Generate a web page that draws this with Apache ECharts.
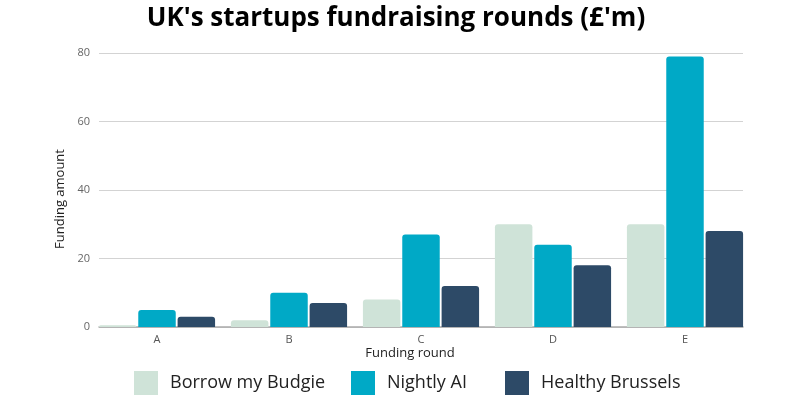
<!DOCTYPE html>
<html>
<head>
<meta charset="utf-8">
<script src="https://cdn.jsdelivr.net/npm/echarts@6/dist/echarts.min.js"></script>
<style>
  html, body { margin: 0; padding: 0; background: #fff; }
  #chart { width: 792px; height: 396px; }
</style>
</head>
<body>
<div id="chart"></div>
<script>
const rounds = ['A', 'B', 'C', 'D', 'E']
const seriesNames = ['Borrow my Budgie', 'Nightly AI', 'Healthy Brussels']
const borrowMyBudgie = [0.5, 2, 8, 30, 30]
const nightlyAI = [5, 10, 27, 24, 79]
const healthyBrussels = [3, 7, 12, 18, 28]
const yTicks = [0, 20, 40, 60, 80]

const font = '"Open Sans", sans-serif'
const colors = ['#cfe3d8', '#00a9c6', '#2d4a67']
const legendLeft = [134, 351, 505]
const chart = echarts.init(document.getElementById('chart'))

// bars sit in their own grid so the groups touch the plot edges like the original
const barSeries = (name, data, i) => ({
  name: name,
  type: 'bar',
  xAxisIndex: 1,
  yAxisIndex: 1,
  data: data,
  barCategoryGap: '12%',
  barGap: '5%',
  itemStyle: { color: colors[i], borderRadius: [3, 3, 0, 0] }
})

chart.setOption({
  animation: false,
  textStyle: { fontFamily: font },
  color: colors,
  title: {
    text: "UK's startups fundraising rounds (£'m)",
    left: 'center',
    top: 1,
    textStyle: { fontFamily: font, fontSize: 26, fontWeight: 'bold', color: '#000' }
  },
  legend: seriesNames.map((name, i) => ({
    left: legendLeft[i],
    top: 371,
    padding: 0,
    itemWidth: 24,
    itemHeight: 24,
    icon: 'rect',
    textStyle: { fontFamily: font, fontSize: 18, color: '#222', padding: [0, 0, 0, 7] },
    data: [name]
  })),
  grid: [
    { left: 99, right: 49, top: 53, bottom: 69 },
    { left: 91, right: 41, top: 53, bottom: 69 }
  ],
  xAxis: [
    {
      gridIndex: 0,
      type: 'value',
      min: 0,
      max: 1,
      axisLine: { show: true, lineStyle: { color: '#aaa', width: 1.5 } },
      axisTick: { show: false },
      axisLabel: { show: false },
      splitLine: { show: false }
    },
    {
      gridIndex: 1,
      type: 'category',
      data: rounds,
      axisLine: { show: false },
      axisTick: { show: false },
      axisLabel: { color: '#555', fontSize: 11, margin: 7, fontFamily: font }
    }
  ],
  yAxis: [
    {
      gridIndex: 0,
      type: 'value',
      min: yTicks[0],
      max: yTicks[yTicks.length - 1],
      interval: 20,
      axisLine: { show: false },
      axisTick: { show: false },
      axisLabel: { color: '#666', fontSize: 11, margin: 9, fontFamily: font },
      splitLine: { lineStyle: { color: '#d3d3d3', width: 1 } }
    },
    {
      gridIndex: 1,
      type: 'value',
      min: yTicks[0],
      max: yTicks[yTicks.length - 1],
      show: false
    }
  ],
  graphic: [
    {
      type: 'text',
      x: 410,
      y: 353,
      style: { text: 'Funding round', font: '13px ' + font, fill: '#222', align: 'center', verticalAlign: 'middle' }
    },
    {
      type: 'text',
      x: 60,
      y: 199,
      rotation: Math.PI / 2,
      style: { text: 'Funding amount', font: '13px ' + font, fill: '#222', align: 'center', verticalAlign: 'middle' }
    }
  ],
  series: [
    barSeries(seriesNames[0], borrowMyBudgie, 0),
    barSeries(seriesNames[1], nightlyAI, 1),
    barSeries(seriesNames[2], healthyBrussels, 2)
  ]
})
</script>
</body>
</html>
